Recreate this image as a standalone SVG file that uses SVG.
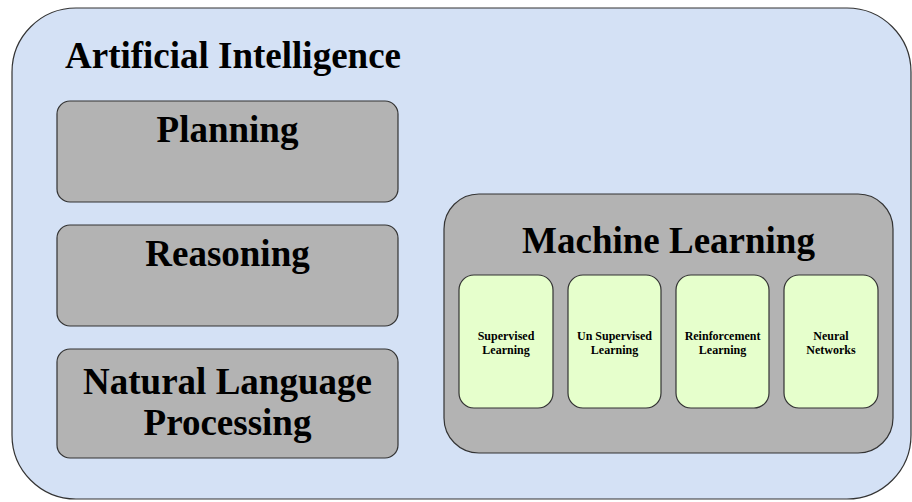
<svg xmlns="http://www.w3.org/2000/svg" width="912" height="502" viewBox="0 0 912 502">
<style>
.t{font-family:"Liberation Serif","Times New Roman",serif;font-weight:bold;fill:#000}
.big{font-size:37px}
.sm{font-size:12px}
.gray{fill:#B3B3B3;stroke:#333;stroke-width:1.2}
.green{fill:#E6FFCC;stroke:#333;stroke-width:1.2}
</style>
<rect width="912" height="502" fill="#ffffff"/>
<g id="ai">
<rect x="12" y="8" width="899" height="491" rx="64" ry="64" fill="#D4E1F5" stroke="#333" stroke-width="1.2"/>
<text class="t big" x="65" y="68">Artificial Intelligence</text>
</g>
<g id="planning">
<rect class="gray" x="57" y="101" width="341" height="101" rx="13"/>
<text class="t big" x="227.5" y="142" text-anchor="middle">Planning</text>
</g>
<g id="reasoning">
<rect class="gray" x="57" y="225" width="341" height="101" rx="13"/>
<text class="t big" x="227.5" y="266" text-anchor="middle">Reasoning</text>
</g>
<g id="nlp">
<rect class="gray" x="57" y="349" width="341" height="109" rx="13"/>
<text class="t big" x="227.5" y="394" text-anchor="middle">Natural Language</text>
<text class="t big" x="227.5" y="435" text-anchor="middle">Processing</text>
</g>
<g id="ml">
<rect class="gray" x="444" y="194" width="449" height="259" rx="35"/>
<text class="t big" x="668.5" y="253" text-anchor="middle">Machine Learning</text>
</g>
<g id="supervised">
<rect class="green" x="459" y="275" width="94" height="133" rx="15"/>
<text class="t sm" x="506" y="340" text-anchor="middle">Supervised</text>
<text class="t sm" x="506" y="353.5" text-anchor="middle">Learning</text>
</g>
<g id="unsupervised">
<rect class="green" x="568" y="275" width="93" height="133" rx="15"/>
<text class="t sm" x="614.5" y="340" text-anchor="middle">Un Supervised</text>
<text class="t sm" x="614.5" y="353.5" text-anchor="middle">Learning</text>
</g>
<g id="reinforcement">
<rect class="green" x="676" y="275" width="93" height="133" rx="15"/>
<text class="t sm" x="722.5" y="340" text-anchor="middle">Reinforcement</text>
<text class="t sm" x="722.5" y="353.5" text-anchor="middle">Learning</text>
</g>
<g id="neural">
<rect class="green" x="784" y="275" width="94" height="133" rx="15"/>
<text class="t sm" x="831" y="340" text-anchor="middle">Neural</text>
<text class="t sm" x="831" y="353.5" text-anchor="middle">Networks</text>
</g>
<g id="connectors"></g>
</svg>
